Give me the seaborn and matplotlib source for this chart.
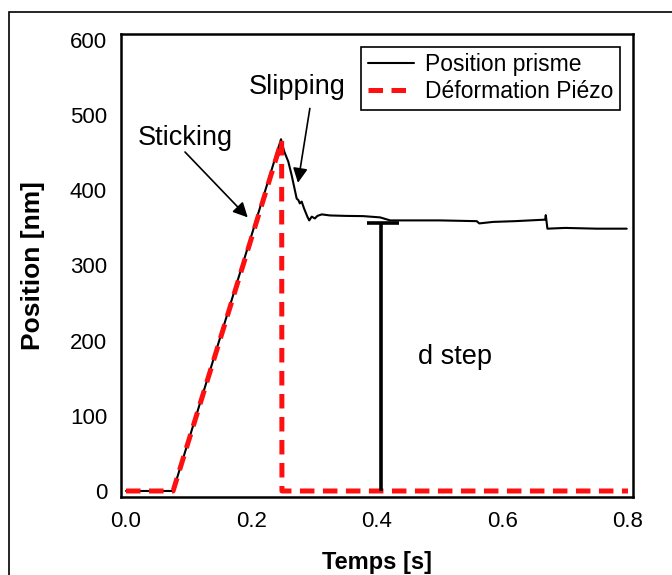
import matplotlib
matplotlib.use("Agg")
import matplotlib.pyplot as plt
import seaborn as sns
import pandas as pd
from matplotlib.patches import Rectangle

# Prism position (black) and piezo deformation (red), time in s, position in nm
t_prisme = [0.0, 0.075, 0.247, 0.252, 0.2587, 0.264, 0.272, 0.2747, 0.277, 0.280,
            0.2837, 0.289, 0.292, 0.296, 0.301, 0.305, 0.312, 0.325, 0.35, 0.378,
            0.405, 0.421, 0.45, 0.50, 0.559, 0.563, 0.585, 0.62, 0.668, 0.669,
            0.6716, 0.70, 0.75, 0.798]
v_prisme = [0, 0, 468, 452, 438, 420, 389, 387, 382.6, 385,
            376, 365, 360, 365, 362.6, 366, 368, 366.6, 366, 365.7,
            364, 360, 360, 360, 359, 356, 358, 359, 361, 367,
            349, 350, 349, 349]

t_piezo = [0.0, 0.075, 0.248, 0.2485, 0.8]
v_piezo = [0, 0, 466, 0, 0]

label_prisme = "Position prisme"
label_piezo = "Déformation Piézo"

# d step marker: vertical bar from 0 up to the plateau, with a cap
dstep_t = 0.406
dstep_v = 356
dstep_cap = (0.384, 0.435)

x_ticks = [0.0, 0.2, 0.4, 0.6, 0.8]
y_ticks = [0, 100, 200, 300, 400, 500, 600]

sns.set_style("white")
plt.rcParams["font.family"] = ["Liberation Sans", "DejaVu Sans"]
plt.rcParams["text.color"] = "black"
plt.rcParams["axes.labelcolor"] = "black"

fig = plt.figure(figsize=(6.72, 5.75), dpi=100)
ax = fig.add_axes([121 / 672, 1 - 497 / 575, (633 - 121) / 672, (497 - 34) / 575])

df_prisme = pd.DataFrame({"t": t_prisme, "v": v_prisme})
df_piezo = pd.DataFrame({"t": t_piezo, "v": v_piezo})

sns.lineplot(data=df_prisme, x="t", y="v", ax=ax, color="black", lw=1.5,
             sort=False, estimator=None, label=label_prisme)
sns.lineplot(data=df_piezo, x="t", y="v", ax=ax, color="#ff1010", lw=3.6,
             sort=False, estimator=None, label=label_piezo, dashes=False)
ax.lines[1].set_dashes((2.9, 1.7))

ax.vlines(dstep_t, 0, dstep_v, color="black", lw=2.6)
ax.hlines(dstep_v, dstep_cap[0], dstep_cap[1], color="black", lw=2.6)

ax.set_xlim(-0.008, 0.808)
ax.set_ylim(-8, 608)
ax.set_xticks(x_ticks)
ax.set_xticklabels([f"{v:.1f}" for v in x_ticks])
ax.set_yticks(y_ticks)
ax.tick_params(direction="in", length=11.5, width=1.5, labelsize=16, pad=10,
               colors="black")
for s in ax.spines.values():
    s.set_color("black")
    s.set_linewidth(1.8)

ax.set_xlabel("Temps [s]", fontsize=17, fontweight="bold", labelpad=14)
ax.set_ylabel("Position [nm]", fontsize=19, fontweight="bold", labelpad=18)

arrow = dict(arrowstyle="-|>", color="black", lw=1.2, mutation_scale=22,
             shrinkA=0, shrinkB=0)
ax.annotate("", xy=(0.194, 364), xytext=(0.094, 451), arrowprops=arrow)
ax.annotate("", xy=(0.274, 410), xytext=(0.293, 509), arrowprops=arrow)
ax.text(0.019, 460, "Sticking", fontsize=19.5, ha="left", va="baseline")
ax.text(0.196, 528, "Slipping", fontsize=19.5, ha="left", va="baseline")
ax.text(0.465, 169, "d step", fontsize=19.5, ha="left", va="baseline")

leg = ax.legend(loc="upper right", fontsize=16.5, frameon=True, fancybox=False,
                framealpha=1, edgecolor="black", borderaxespad=0.55,
                handlelength=2.0, handletextpad=0.5, borderpad=0.3,
                labelspacing=0.15)
leg.get_frame().set_linewidth(1.2)
for txt in leg.get_texts():
    txt.set_color("black")

# outer frame around the figure
fig.patches.append(Rectangle((9 / 672, -0.2), 1.2, 1.2 - 12 / 575,
                             transform=fig.transFigure, fill=False,
                             edgecolor="black", lw=1.2))

fig.savefig("out.png", dpi=100)
